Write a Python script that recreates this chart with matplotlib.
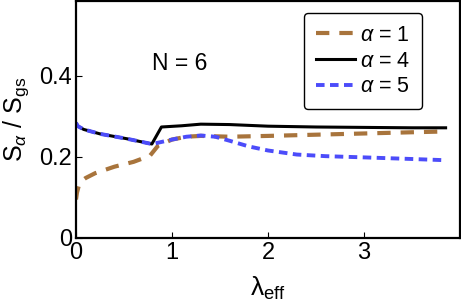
import matplotlib
matplotlib.use("Agg")
import matplotlib.pyplot as plt

plt.rcParams['font.family'] = ['Liberation Sans', 'DejaVu Sans']
plt.rcParams['mathtext.fontset'] = 'custom'
plt.rcParams['mathtext.rm'] = 'Liberation Sans'
plt.rcParams['mathtext.it'] = 'Liberation Sans:italic'

# curve values
x_a1 = [0.0, 0.01, 0.03, 0.06, 0.1, 0.2, 0.4, 0.6, 0.77, 0.855, 1.0, 1.15, 1.3,
        1.6, 2.0, 2.5, 3.0, 3.5, 3.85]
y_a1 = [0.095, 0.112, 0.13, 0.141, 0.148, 0.16, 0.176, 0.188, 0.203, 0.228, 0.243,
        0.25, 0.252, 0.25, 0.252, 0.255, 0.258, 0.261, 0.263]

x_a4 = [0.0, 0.02, 0.08, 0.25, 0.53, 0.79, 0.89, 1.1, 1.3, 1.6, 2.0, 2.5, 3.0,
        3.5, 3.85]
y_a4 = [0.284, 0.276, 0.268, 0.257, 0.245, 0.232, 0.274, 0.277, 0.281, 0.280,
        0.276, 0.274, 0.273, 0.272, 0.272]

x_a5 = [0.0, 0.02, 0.08, 0.25, 0.53, 0.79, 0.87, 1.0, 1.15, 1.3, 1.45, 1.6, 1.8,
        2.0, 2.3, 2.6, 3.0, 3.5, 3.85]
y_a5 = [0.284, 0.276, 0.268, 0.257, 0.245, 0.232, 0.236, 0.243, 0.25, 0.253,
        0.25, 0.24, 0.226, 0.216, 0.206, 0.202, 0.199, 0.195, 0.192]

x_ticks = [0, 1, 2, 3]
y_ticks = [0, 0.2, 0.4]
y_tick_labels = ["0", "0.2", "0.4"]

fig = plt.figure(figsize=(4.61, 3.05), dpi=100)
ax = fig.add_axes([76 / 461, 67 / 305, 384 / 461, 237 / 305])

ax.plot(x_a1, y_a1, color='#A8743C', lw=3.0, dashes=(3.2, 2.4), label=r'$\alpha$ = 1')
ax.plot(x_a4, y_a4, color='black', lw=2.2, label=r'$\alpha$ = 4')
ax.plot(x_a5, y_a5, color='#4C4CFA', lw=2.8, dashes=(2.2, 1.4), label=r'$\alpha$ = 5')

ax.set_xlim(0, 4.0)
ax.set_ylim(0, 0.585)
ax.set_xticks(x_ticks)
ax.set_yticks(y_ticks)
ax.set_yticklabels(y_tick_labels)
ax.tick_params(direction='in', length=4, width=0.8, labelsize=17, pad=3)
for s in ax.spines.values():
    s.set_linewidth(1.6)

ax.set_xlabel(r'λ$_{\rm eff}$', fontsize=19, labelpad=8)
ax.set_ylabel(r'S$_\alpha$ / S$_{\rm gs}$', fontsize=18, labelpad=6)

ax.text(1.08, 0.43, 'N = 6', fontsize=16.5, ha='center', va='center')

# legend box with rounded corners, like the original
leg = ax.legend(loc='upper right', bbox_to_anchor=(0.901, 0.949), borderaxespad=0,
                fontsize=15.5, handlelength=1.8, handletextpad=0.25,
                labelspacing=0.22, fancybox=True, framealpha=1,
                edgecolor='black', borderpad=0.55)
leg.get_frame().set_linewidth(1.0)

fig.savefig('out.png', dpi=100)
